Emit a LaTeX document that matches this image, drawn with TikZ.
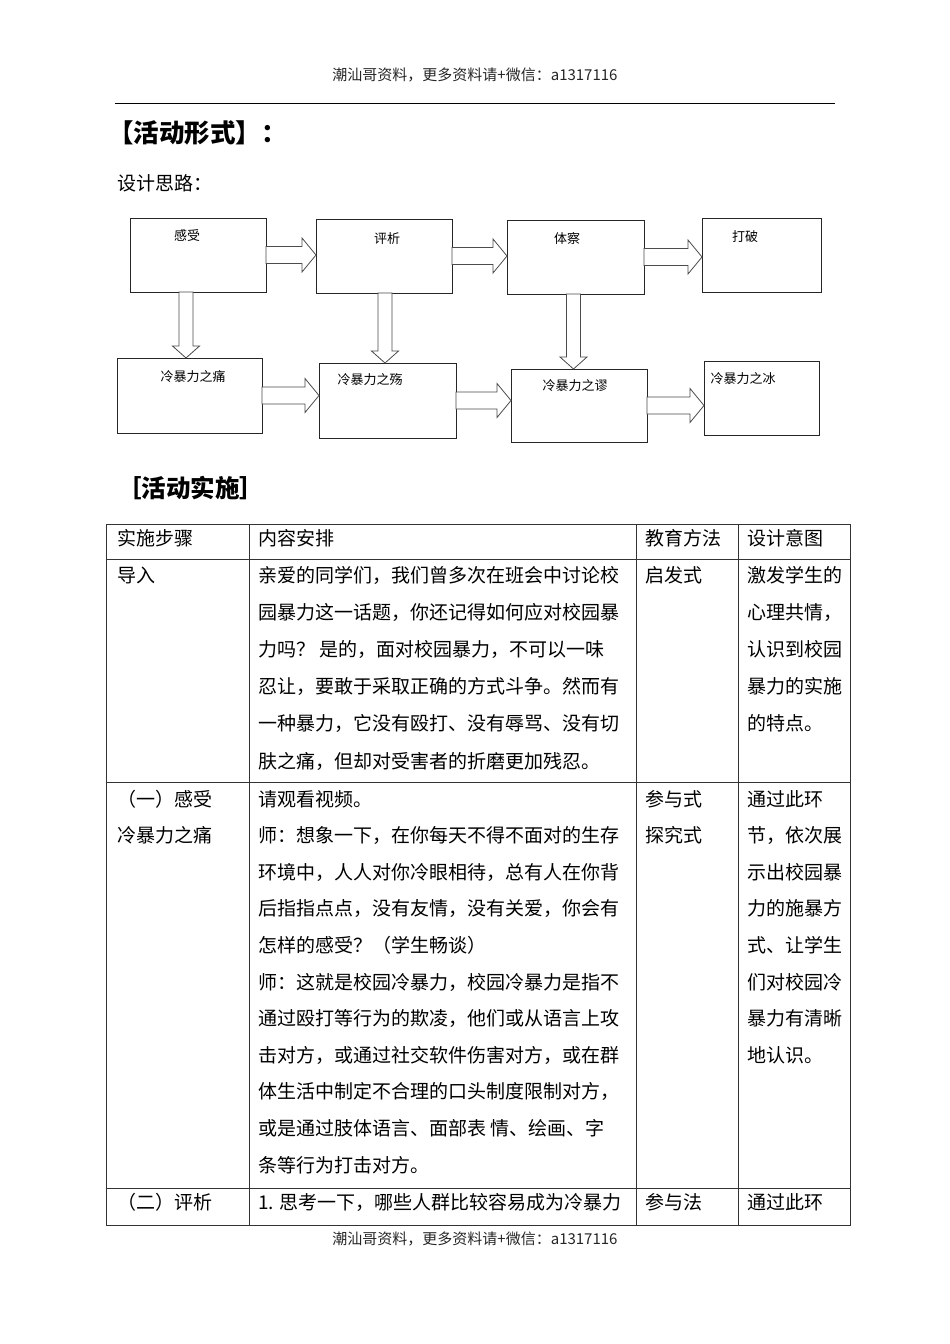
\documentclass[tikz,border=0pt]{standalone}
\usepackage{fontspec}
\setmainfont{Noto Sans CJK SC}
\usetikzlibrary{calc}
\newcommand\hblk[2]{\draw[barrow] let \p1=(#1.east), \p2=(#2.west) in
  (\x1,{\y1-8.5pt}) -- ({\x2-14pt},{\y1-8.5pt}) -- ({\x2-14pt},{\y1-17pt}) -- (\x2,\y1)
  -- ({\x2-14pt},{\y1+17pt}) -- ({\x2-14pt},{\y1+8.5pt}) -- (\x1,{\y1+8.5pt}) -- cycle;}
\newcommand\vblk[3]{\draw[barrow] let \p1=(#1.south), \p2=(#2.north) in
  ({\x1+(#3pt)-7pt},\y1) -- ({\x1+(#3pt)-7pt},{\y2+12pt}) -- ({\x1+(#3pt)-13.5pt},{\y2+12pt})
  -- ({\x1+(#3pt)},\y2) -- ({\x1+(#3pt)+13.5pt},{\y2+12pt}) -- ({\x1+(#3pt)+7pt},{\y2+12pt})
  -- ({\x1+(#3pt)+7pt},\y1) -- cycle;}
\begin{document}
\begin{tikzpicture}[x=1pt,y=-1pt,
  box/.style={draw=black!85, line width=1pt, inner sep=0pt, outer sep=0pt},
  lbl/.style={font=\fontsize{13}{13}\selectfont, inner sep=0pt},
  txt/.style={anchor=base west, inner sep=0pt, font=\fontsize{19}{19}\selectfont},
  barrow/.style={draw=black!70, line width=0.8pt, fill=white},
  grid/.style={draw=black!80, line width=0.9pt}]
\useasboundingbox (0,0) rectangle (950,1344);
\fill[white] (0,0) rectangle (950,1344);

% page header / footer
\node[inner sep=0pt, font=\fontsize{15}{15}\selectfont, text=black!85] (hdr) at (475,75) {潮汕哥资料，更多资料请+微信：a1317116};
\coordinate (hl) at (115,103);
\coordinate (hr) at (835,103);
\draw[line width=1pt] (hl) -- (hr);
\node[inner sep=0pt, font=\fontsize{15}{15}\selectfont, text=black!85] (ftr) at (475,1239) {潮汕哥资料，更多资料请+微信：a1317116};

% headings
\node[anchor=west, inner sep=0pt, font=\fontsize{25.5}{25.5}\selectfont\bfseries] (t1) at (108,133) {【活动形式】：};
\node[anchor=west, inner sep=0pt, font=\fontsize{19}{19}\selectfont] (t2) at (117,183) {设计思路：};
\node[anchor=west, inner sep=0pt, font=\fontsize{24.5}{24.5}\selectfont\bfseries] (t3) at (117,488) {［活动实施］};

% flowchart boxes
\node[box, minimum width=136, minimum height=74] (s1) at (198,255) {};
\node[box, minimum width=136, minimum height=74] (s2) at (384,256) {};
\node[box, minimum width=137, minimum height=74] (s3) at (575.5,257) {};
\node[box, minimum width=119, minimum height=74] (s4) at (761.5,255) {};
\node[box, minimum width=145, minimum height=75] (b1) at (189.5,395.5) {};
\node[box, minimum width=137, minimum height=75] (b2) at (387.5,400.5) {};
\node[box, minimum width=136, minimum height=73] (b3) at (579,405.5) {};
\node[box, minimum width=115, minimum height=74] (b4) at (761.5,398) {};

\node[lbl] (ls1) at (187,236) {感受};
\node[lbl] (ls2) at (387,239) {评析};
\node[lbl] (ls3) at (567,239) {体察};
\node[lbl] (ls4) at (745,237) {打破};
\node[lbl] (lb1) at (193,377) {冷暴力之痛};
\node[lbl] (lb2) at (370,380) {冷暴力之殇};
\node[lbl] (lb3) at (575,386) {冷暴力之谬};
\node[lbl] (lb4) at (743,379) {冷暴力之冰};

% block arrows
\hblk{s1}{s2}
\hblk{s2}{s3}
\hblk{s3}{s4}
\hblk{b1}{b2}
\hblk{b2}{b3}
\hblk{b3}{b4}
\vblk{s1}{b1}{-12}
\vblk{s2}{b2}{1}
\vblk{s3}{b3}{-2}

% table grid
\draw[grid] (106,524) rectangle (850,1225);
\draw[grid] (249,524) -- (249,1225);
\draw[grid] (636,524) -- (636,1225);
\draw[grid] (738,524) -- (738,1225);
\draw[grid] (106,559) -- (850,559);
\draw[grid] (106,782) -- (850,782);
\draw[grid] (106,1188) -- (850,1188);

% header row
\node[txt] (h1) at (117,545) {实施步骤};
\node[txt] (h2) at (258,545) {内容安排};
\node[txt] (h3) at (645,545) {教育方法};
\node[txt] (h4) at (747,545) {设计意图};

% row 导入
\node[txt] (r1c1) at (117,582) {导入};
\foreach \t [count=\i from 0] in {亲爱的同学们，我们曾多次在班会中讨论校,园暴力这一话题，你还记得如何应对校园暴,力吗？ 是的，面对校园暴力，不可以一味,忍让，要敢于采取正确的方式斗争。然而有,一种暴力，它没有殴打、没有辱骂、没有切,肤之痛，但却对受害者的折磨更加残忍。}
  \node[txt] (r1c2l\i) at (258,{582+37.2*\i}) {\t};
\node[txt] (r1c3) at (645,582) {启发式};
\foreach \t [count=\i from 0] in {激发学生的,心理共情，,认识到校园,暴力的实施,的特点。}
  \node[txt] (r1c4l\i) at (747,{582+37.2*\i}) {\t};

% row (一)
\node[txt] (r2c1a) at (117,806) {（一）感受};
\node[txt] (r2c1b) at (117,842.6) {冷暴力之痛};
\foreach \t [count=\i from 0] in {请观看视频。,师：想象一下，在你每天不得不面对的生存,环境中，人人对你冷眼相待，总有人在你背,后指指点点，没有友情，没有关爱，你会有,怎样的感受？（学生畅谈）,师：这就是校园冷暴力，校园冷暴力是指不,通过殴打等行为的欺凌，他们或从语言上攻,击对方，或通过社交软件伤害对方，或在群,体生活中制定不合理的口头制度限制对方，,或是通过肢体语言、面部表 情、绘画、字,条等行为打击对方。}
  \node[txt] (r2c2l\i) at (258,{806+36.6*\i}) {\t};
\node[txt] (r2c3a) at (645,806) {参与式};
\node[txt] (r2c3b) at (645,842.6) {探究式};
\foreach \t [count=\i from 0] in {通过此环,节，依次展,示出校园暴,力的施暴方,式、让学生,们对校园冷,暴力有清晰,地认识。}
  \node[txt] (r2c4l\i) at (747,{806+36.6*\i}) {\t};

% row (二)
\node[txt] (r3c1) at (117,1209) {（二）评析};
\node[txt] (r3c2) at (258,1209) {1. 思考一下，哪些人群比较容易成为冷暴力};
\node[txt] (r3c3) at (645,1209) {参与法};
\node[txt] (r3c4) at (747,1209) {通过此环};
\end{tikzpicture}
\end{document}
